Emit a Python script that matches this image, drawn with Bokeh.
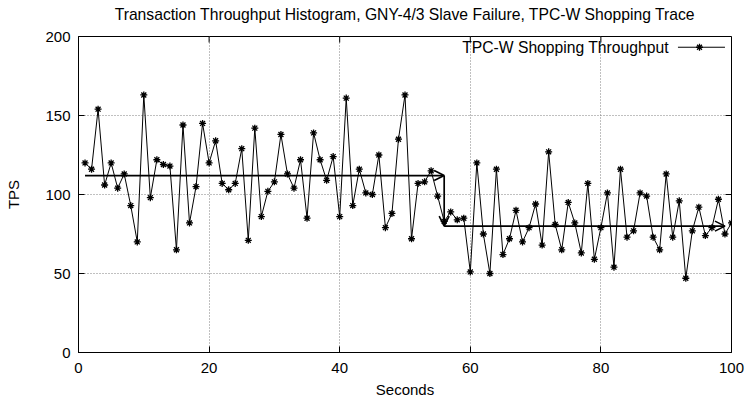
from bokeh.plotting import figure
from bokeh.models import Range1d, Arrow, OpenHead, ColumnDataSource, Label, FixedTicker, LinearAxis
from bokeh.embed import file_html
from bokeh.resources import INLINE

# ---------------- data ----------------
seconds = list(range(1, 101))
tps = [120, 116, 154, 106, 120, 104, 113, 93, 70, 163,
       98, 122, 119, 118, 65, 144, 82, 105, 145, 120,
       134, 107, 103, 107, 129, 71, 142, 86, 102, 108,
       138, 113, 104, 122, 85, 139, 122, 109, 124, 86,
       161, 93, 116, 101, 100, 125, 79, 88, 135, 163,
       72, 107, 108, 115, 99, 83, 89, 84, 85, 51,
       120, 75, 50, 116, 62, 72, 90, 70, 79, 94,
       68, 127, 81, 65, 95, 82, 63, 107, 59, 79,
       101, 54, 116, 73, 77, 101, 99, 73, 65, 113,
       73, 96, 47, 77, 92, 74, 79, 97, 75, 82]

x_ticks = [0, 20, 40, 60, 80, 100]
y_ticks = [0, 50, 100, 150, 200]
x_grid = [20, 40, 60, 80]
y_grid = [50, 100, 150]

failure_time = 56
trace_start = 1
trace_end = 99
mean_before = 112
mean_after = 80

arrow_x_start = [trace_start, failure_time, failure_time]
arrow_y_start = [mean_before, mean_before, mean_after]
arrow_x_end = [failure_time, failure_time, trace_end]
arrow_y_end = [mean_before, mean_after, mean_after]

title = "Transaction Throughput Histogram, GNY-4/3 Slave Failure, TPC-W Shopping Trace"
series_name = "TPC-W Shopping Throughput"

FONT = "Liberation Sans"
FS = "15px"
FS_BIG = "15.7px"
X0, X1, Y0, Y1 = 0, 100, 0, 200

W, H = 746, 401
BL, BR, BT, BB = 78, 15, 36, 49
frame_w = W - BL - BR
frame_h = H - BT - BB
px_x = (X1 - X0) / frame_w   # data units per pixel
px_y = (Y1 - Y0) / frame_h

p = figure(width=W, height=H,
           x_range=Range1d(X0, X1), y_range=Range1d(Y0, Y1),
           output_backend="svg", toolbar_location=None,
           min_border_left=BL, min_border_right=BR,
           min_border_top=BT, min_border_bottom=BB)

p.outline_line_color = "black"
p.outline_line_width = 1
p.background_fill_color = "white"
p.border_fill_color = "white"

bottom_axis = p.below[0]
left_axis = p.left[0]

for ax, ticks, lab in ((bottom_axis, x_ticks, "Seconds"), (left_axis, y_ticks, "TPS")):
    ax.ticker = FixedTicker(ticks=ticks)
    ax.axis_label = lab
    ax.axis_label_text_font = FONT
    ax.axis_label_text_font_size = FS
    ax.axis_label_text_font_style = "normal"
    ax.axis_label_text_color = "black"
    ax.major_label_text_font = FONT
    ax.major_label_text_font_size = FS
    ax.major_label_text_color = "black"
    ax.major_tick_in = 6
    ax.major_tick_out = 0
    ax.minor_tick_in = 0
    ax.minor_tick_out = 0
    ax.axis_line_color = "black"
    ax.major_tick_line_color = "black"

left_axis.major_label_standoff = 8
bottom_axis.major_label_standoff = 10
left_axis.axis_label_standoff = 20
bottom_axis.axis_label_standoff = 5

# title carried by a tick-less axis above the frame (lets its distance be set)
title_axis = LinearAxis(ticker=FixedTicker(ticks=[]), axis_label=title,
                        axis_label_standoff=14,
                        axis_label_text_font=FONT, axis_label_text_font_size=FS_BIG,
                        axis_label_text_font_style="normal", axis_label_text_color="black",
                        axis_line_color=None, major_tick_line_color=None,
                        minor_tick_line_color=None,
                        major_tick_in=0, major_tick_out=0,
                        minor_tick_in=0, minor_tick_out=0,
                        major_label_standoff=0)
p.add_layout(title_axis, "above")

p.xgrid.ticker = FixedTicker(ticks=x_grid)
p.ygrid.ticker = FixedTicker(ticks=y_grid)
for g in (p.xgrid[0], p.ygrid[0]):
    g.grid_line_color = "#808080"
    g.grid_line_dash = "1 2"
    g.grid_line_width = 1

# mirrored inward tick marks on the top and right borders (6 px long)
tx = 6 * px_x
ty = 6 * px_y
p.segment(x0=[X1 - tx] * len(y_ticks), y0=y_ticks, x1=[X1] * len(y_ticks), y1=y_ticks,
          line_color="black", line_width=1)
p.segment(x0=x_ticks, y0=[Y1 - ty] * len(x_ticks), x1=x_ticks, y1=[Y1] * len(x_ticks),
          line_color="black", line_width=1)

src = ColumnDataSource(dict(x=seconds, y=tps))
p.line("x", "y", source=src, line_color="black", line_width=1)
p.scatter("x", "y", source=src, marker="asterisk", size=7,
          line_color="black", line_width=1.3)

arrow_src = ColumnDataSource(dict(x0=arrow_x_start, y0=arrow_y_start,
                                  x1=arrow_x_end, y1=arrow_y_end))
p.add_layout(Arrow(end=OpenHead(size=10, line_width=1.6, line_color="black"),
                   source=arrow_src, x_start="x0", y_start="y0",
                   x_end="x1", y_end="y1",
                   line_width=1.7, line_color="black"))

# key (label on the left, sample on the right, as in the original)
key_y = 193.2
p.add_layout(Label(x=90.4, y=key_y, text=series_name, text_align="right",
                   text_baseline="middle", text_font=FONT,
                   text_font_size=FS_BIG, text_color="black"))
p.segment(x0=[91.8], y0=[key_y], x1=[99.0], y1=[key_y],
          line_color="black", line_width=1)
p.scatter(x=[95.1], y=[key_y], marker="asterisk", size=7,
          line_color="black", line_width=1.3)

open("out.html", "w").write(file_html(p, INLINE))
